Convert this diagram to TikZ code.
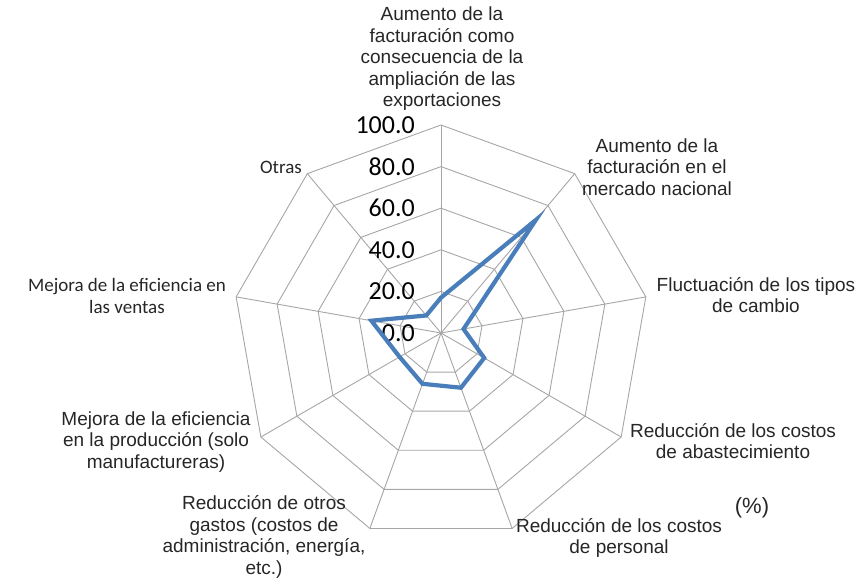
\documentclass[tikz,border=0pt]{standalone}
\usepackage{fontspec}
\setmainfont{Liberation Sans}
\newfontfamily\calibri{Carlito}
\usetikzlibrary{calc,positioning}
\definecolor{rejilla}{HTML}{A6A6A6}
\definecolor{serie}{HTML}{4A7EBB}
\definecolor{texto}{HTML}{262626}
\tikzset{
    grid line/.style={draw=rejilla,line width=0.9},
    axis label/.style={
        align=center,inner sep=0pt,text=texto,
        font=\fontsize{19}{21.5}\selectfont
    },
    axis label c/.style={
        align=center,inner sep=0pt,text=texto,
        font=\calibri\fontsize{19}{21.5}\selectfont
    },
    tick label/.style={anchor=east,inner sep=0pt,font=\calibri\fontsize{26}{28}\selectfont},
    series/.style={draw=serie,line width=4.2,line join=miter},
}

\begin{document}
\begin{tikzpicture}[x=1pt,y=1pt]
		\useasboundingbox (0,0) rectangle (866,584);

		\scope[shift={(441,251)}]
		% rings and spokes
		\foreach \k in {1,...,5}
		\draw[grid line] (90:\k*41.6) \foreach \a in {50,10,...,-230} { -- (\a:\k*41.6) } -- cycle;
		\foreach \a in {90,50,...,-230}
		\draw[grid line] (0,0) -- (\a:208);
		\foreach \k/\t in {0/0.0,1/20.0,2/40.0,3/60.0,4/80.0,5/100.0}
		\node[tick label] (T\k) at (-26,\k*41.6) {\t};
		% data
		\foreach \a/\v/\n in {90/17/P1,50/71/P2,10/11/P3,-30/24/P4,-70/28/P5,-110/26/P6,-150/23/P7,-190/34/P8,-230/11/P9}
		\coordinate (\n) at (\a:\v*2.08);
		\draw[series] (P1) -- (P2) -- (P3) -- (P4) -- (P5) -- (P6) -- (P7) -- (P8) -- (P9) -- cycle;
		\endscope

		\node[axis label] (Exp) at (442,525) {Aumento de la\\facturación como\\consecuencia de la\\ampliación de las\\exportaciones};
		\node[axis label] (Nac) at (657,417) {Aumento de la\\facturación en el\\mercado nacional};
		\node[axis label] (Cam) at (756,289) {Fluctuación de los tipos\\de cambio};
		\node[axis label] (Aba) at (733,143) {Reducción de los costos\\de abastecimiento};
		\node[axis label] (Per) at (619,46) {Reducción de los costos\\de personal};
		\node[axis label] (Gas) at (264,47) {Reducción de otros\\gastos (costos de\\administración, energía,\\etc.)};
		\node[axis label] (Pro) at (156,142) {Mejora de la eficiencia\\en la producción (solo\\manufactureras)};
		\node[axis label c] (Ven) at (127,288) {Mejora de la eficiencia en\\las ventas};
		\node[axis label c] (Otr) at (281,417) {Otras};
		\node[axis label,font=\fontsize{22}{24}\selectfont] (Pct) at (752,76) {(\%)};
	\end{tikzpicture}
\end{document}
